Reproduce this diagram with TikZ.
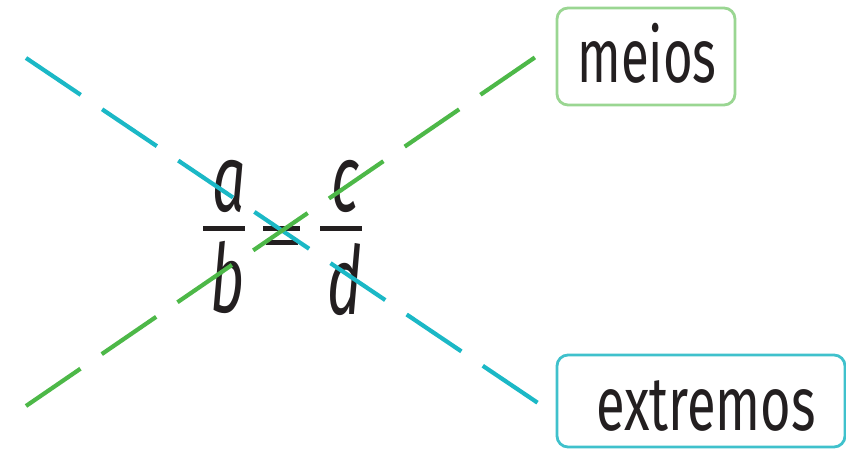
\documentclass[tikz,border=0pt]{standalone}
\usepackage{fontspec}
\setmainfont{Fira Sans}
\definecolor{cyanline}{HTML}{1BB8C6}
\definecolor{greenline}{HTML}{4DB848}
\definecolor{greenbox}{HTML}{9AD692}
\definecolor{cyanbox}{HTML}{3FC1CC}
\definecolor{ink}{HTML}{231F20}
\tikzset{
  dashline/.style={line width=4.2pt, dash pattern=on 66pt off 25.8pt},
  labelbox/.style={draw, line width=2.8pt, rounded corners=11pt, fill=white, inner sep=0pt},
  lbltext/.style={font=\fontsize{76}{80}\selectfont, text=ink, inner sep=0pt},
  fracletter/.style={font=\fontsize{95}{100}\selectfont\itshape, text=ink, inner sep=0pt, anchor=base},
  barline/.style={fill=ink, draw=none}
}
\begin{document}
\begin{tikzpicture}[x=1pt,y=-1pt]
\useasboundingbox (0,0) rectangle (846,449);
% boxes
\node[labelbox, draw=greenbox, minimum width=178pt, minimum height=97pt] (meiosbox) at (646,56.5) {};
\node[lbltext, anchor=base] (meios) at (647,83) {\scalebox{0.67}[1]{meios}};
\node[labelbox, draw=cyanbox, minimum width=288pt, minimum height=92pt] (extbox) at (701,401) {};
\node[lbltext, anchor=base] (extremos) at (706,430) {\scalebox{0.69}[1]{extremos}};
% fraction
\node[fracletter] (a) at (229,212) {\scalebox{0.62}[1]{a}};
\node[fracletter] (b) at (228,312) {\scalebox{0.62}[1]{b}};
\node[fracletter] (c) at (345,212) {\scalebox{0.62}[1]{c}};
\node[fracletter] (d) at (345,314) {\scalebox{0.62}[1]{d}};
\fill[barline] (203,226) rectangle (245,231);
\fill[barline] (320,226) rectangle (362,231);
\fill[barline] (263,226) rectangle (300,231);
\fill[barline] (266,240) rectangle (298,245);
% connector lines
\coordinate (c1) at (26,58);
\coordinate (c2) at (538,403);
\coordinate (g1) at (26,406);
\coordinate (g2) at (537,56);
\draw[dashline, cyanline] (c1) -- (c2);
\draw[dashline, greenline] (g1) -- (g2);
\end{tikzpicture}
\end{document}
